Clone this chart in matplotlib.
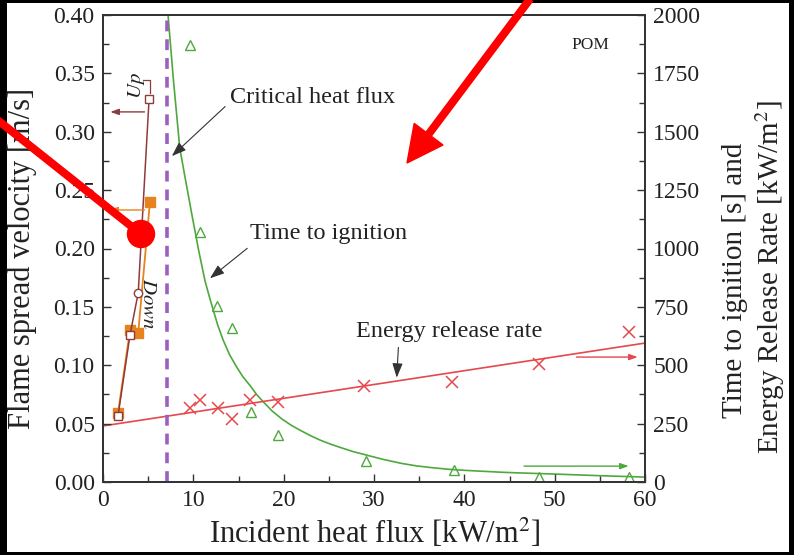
import numpy as np
import matplotlib
matplotlib.use('Agg')
import matplotlib.pyplot as plt
from matplotlib.patches import Rectangle, Circle, Polygon

plt.rcParams['font.family'] = ['Liberation Serif', 'DejaVu Serif']
plt.rcParams['mathtext.fontset'] = 'stix'

# flame spread velocity (left axis, m/s)
up_x = [1.66, 2.99, 3.9, 5.1]
up_v = [0.0565, 0.126, 0.162, 0.328]
down_x = [1.66, 2.99, 3.9, 5.2]
down_v = [0.059, 0.130, 0.128, 0.240]

critical_flux = 7.1

# time to ignition (right axis, s)
tig_x = [9.6, 10.7, 12.6, 14.3, 16.4, 19.4, 29.1, 38.9, 48.3, 58.2]
tig_y = [1872, 1071, 754, 660, 300, 201, 92, 50, 20, 20]
tig_fit_x = [7.2, 7.8, 8.5, 9.2, 9.85, 10.6, 11.3, 11.8, 12.2, 12.7, 13.3, 14.0, 14.8, 15.5, 16.3,
             17.0, 17.7, 18.7, 19.8, 20.8, 21.8, 23.0, 24.0, 25.2, 26.5, 27.7, 29.0, 31.0, 33.0,
             34.7, 36.5, 38.4, 40.0, 42.0, 44.0, 46.0, 50.0, 55.0, 60.0]
tig_fit_y = [2000, 1720, 1430, 1280, 1143, 990, 860, 790, 737, 672, 608, 546, 492, 450, 412,
             375, 345, 305, 270, 244, 222, 198, 180, 162, 145, 130, 117, 97, 80,
             69, 61, 54, 50, 46, 42, 39, 34, 27, 21]

# energy release rate (right axis, kW/m2)
err_x = [9.6, 10.7, 12.7, 14.3, 16.3, 19.4, 28.9, 38.6, 48.3, 58.2]
err_y = [317, 351, 317, 270, 351, 343, 410, 430, 505, 641]
err_fit_x = [0, 60]
err_fit_y = [240, 595]

brown = '#8e3b3b'
orange = '#e8821e'
green = '#4ea83e'
red = '#e5484d'
purple = '#9b5fc0'
ink = '#222222'

fig = plt.figure(figsize=(7.94, 5.55), dpi=100)
fig.patch.set_facecolor('black')
fig.add_artist(Rectangle((7 / 794, 3 / 555), 782 / 794, 549 / 555, transform=fig.transFigure,
                         facecolor='white', edgecolor='none', zorder=-5))

ax = fig.add_axes([103 / 794, 1 - 482 / 555, 542 / 794, 467 / 555])
ax2 = ax.twinx()
ax.set_zorder(ax2.get_zorder() + 1)
ax.patch.set_visible(False)

head = '-|>,head_length=0.5,head_width=0.18'

# right axis series
ax2.plot(tig_fit_x, tig_fit_y, color=green, lw=1.2)
ax2.plot(tig_x, tig_y, ls='none', marker='^', ms=7, mfc='none', mec=green, mew=1.0)
ax2.plot(err_fit_x, err_fit_y, color=red, lw=1.2)
ax2.plot(err_x, err_y, ls='none', marker='x', ms=8, color=red, mew=1.1)
ax2.annotate('', xy=(59.5, 535), xytext=(52.1, 535), arrowprops=dict(arrowstyle=head, color=red, lw=1.0))
ax2.annotate('', xy=(58.5, 68), xytext=(46.3, 68), arrowprops=dict(arrowstyle=head, color=green, lw=1.0))

# left axis series
ax.axvline(critical_flux, color=purple, lw=2.6, ls=(0, (3, 2.2)))
ax.plot(down_x, down_v, color=orange, lw=1.3, marker='s', ms=6.5, mfc=orange, mec=orange)
ax.plot(up_x, up_v, color=brown, lw=1.1)
ax.plot(up_x[:2] + up_x[3:], up_v[:2] + up_v[3:], ls='none', marker='s', ms=5.5, mfc='white', mec=brown)
ax.plot([up_x[2]], [up_v[2]], ls='none', marker='o', ms=6, mfc='white', mec=brown)
ax.plot([5.2, 5.2, 4.44], [0.333, 0.344, 0.344], color=brown, lw=0.9)
ax.annotate('', xy=(0.5, 0.317), xytext=(4.9, 0.317), arrowprops=dict(arrowstyle=head, color=brown, lw=1.0))
ax.annotate('', xy=(0.4, 0.233), xytext=(4.9, 0.233), arrowprops=dict(arrowstyle=head, color=orange, lw=1.0))
ax.text(3.75, 0.340, '$\\mathit{Up}$', rotation=90, ha='center', va='center', fontsize=15, color=ink)
ax.text(4.9, 0.153, '$\\mathit{Down}$', rotation=-90, ha='center', va='center', fontsize=15, color=ink)

arrow_k = dict(arrowstyle=head, color='#333333', lw=0.8)
ax.annotate('Critical heat flux', xy=(7.4, 0.2775), xytext=(14.05, 0.329),
            ha='left', va='center', fontsize=17.5, color=ink, arrowprops=dict(arrow_k, relpos=(0.0, 0.3)))
ax.annotate('Time to ignition', xy=(11.6, 0.173), xytext=(16.3, 0.213),
            ha='left', va='center', fontsize=17.5, color=ink, arrowprops=dict(arrow_k, relpos=(0.05, 0.2)))
ax.annotate('Energy release rate', xy=(32.5, 0.087), xytext=(28.0, 0.129),
            ha='left', va='center', fontsize=17.5, color=ink, arrowprops=dict(arrow_k, relpos=(0.23, 0.1)))
ax.text(53.9, 0.374, 'POM', ha='center', va='center', fontsize=12.5, color=ink)

ax.set_xlim(0, 60)
ax.set_ylim(0, 0.40)
ax2.set_ylim(0, 2000)
ax.set_xticks(np.arange(0, 61, 10))
ax.set_xticks(np.arange(5, 60, 10), minor=True)
ax.set_yticks(np.arange(0, 0.401, 0.05))
ax.set_yticks(np.arange(0.025, 0.4, 0.05), minor=True)
ax.set_yticklabels([f'{v:.2f}' for v in np.arange(0, 0.401, 0.05)])
ax2.set_yticks(np.arange(0, 2001, 250))
ax2.set_yticks(np.arange(125, 2000, 250), minor=True)

ax.tick_params(which='both', direction='in', top=False, right=False, labelsize=17, color='#333333',
               labelcolor=ink)
ax.tick_params(which='major', length=6, width=1.0)
ax.tick_params(which='minor', length=4, width=1.0)
ax.tick_params(axis='y', pad=6)
ax.tick_params(axis='x', pad=6)
ax2.tick_params(which='both', direction='in', labelsize=17, color='#333333', labelcolor=ink, pad=6)
ax2.tick_params(which='major', length=6, width=1.0)
ax2.tick_params(which='minor', length=4, width=1.0)
for a in (ax, ax2):
    for s in a.spines.values():
        s.set_color('#333333')
        s.set_linewidth(1.3)

fig.text(375 / 794, 1 - 533 / 555, 'Incident heat flux [kW/m$^2$]', ha='center', va='center',
         fontsize=22, color=ink)
fig.text(22 / 794, 1 - 258 / 555, 'Flame spread velocity [m/s]', rotation=90, ha='center', va='center',
         fontsize=22, color=ink)
fig.text(735 / 794, 1 - 280 / 555, 'Time to ignition [s] and', rotation=90, ha='center', va='center',
         fontsize=21, color=ink)
fig.text(770 / 794, 1 - 277 / 555, 'Energy Release Rate [kW/m$^2$]', rotation=90, ha='center',
         va='center', fontsize=21, color=ink)

# red overlay marks drawn on top of the figure
ov = fig.add_axes([0, 0, 1, 1], zorder=20)
ov.set_xlim(0, 794)
ov.set_ylim(555, 0)
ov.axis('off')
ov.patch.set_visible(False)
start = np.array([533.0, -5.0])
tip = np.array([407.0, 163.0])
u = (tip - start) / np.linalg.norm(tip - start)
n = np.array([-u[1], u[0]])
base = tip - 36 * u
ov.plot([start[0], base[0]], [start[1], base[1]], color='#ff0000', lw=5.8, solid_capstyle='butt',
        clip_on=False)
ov.add_patch(Polygon([tip, base + 18 * n, base - 18 * n], closed=True, color='#ff0000', clip_on=False))
ov.plot([-5, 141], [118, 234], color='#ff0000', lw=5.8, clip_on=False)
ov.add_patch(Circle((141, 234), 13.5, color='#ff0000', clip_on=False))

fig.savefig('out.png', dpi=100, facecolor=fig.get_facecolor())
